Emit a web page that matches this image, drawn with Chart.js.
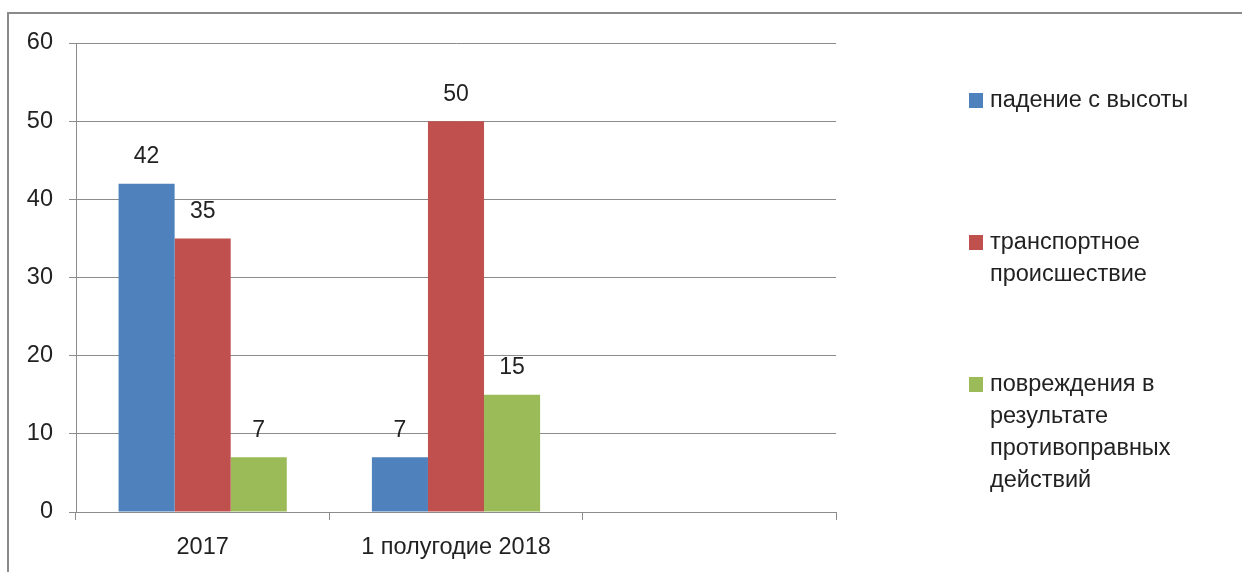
<!DOCTYPE html>
<html>
<head>
<meta charset="utf-8">
<script src="https://cdn.jsdelivr.net/npm/chart.js@4"></script>
<style>
  html, body { margin: 0; padding: 0; background: #fff; }
  #wrap { position: relative; width: 1242px; height: 572px; overflow: hidden; }
  #frame { position: absolute; left: 7px; top: 12px; width: 1300px; height: 700px; border-left: 2px solid #8a8a8a; border-top: 2px solid #8a8a8a; }
  #c { position: absolute; left: 0; top: 0; }
</style>
</head>
<body>
<div id="wrap">
  <div id="frame"></div>
  <canvas id="c" width="1242" height="572"></canvas>
</div>
<script>
// данные диаграммы
const categories = ['2017', '1 полугодие 2018', ''];
const seriesNames = ['падение с высоты', 'транспортное происшествие', 'повреждения в результате противоправных действий'];
const seriesColors = ['#4F81BD', '#C0504D', '#9BBB59'];
const fallValues = [42, 7, null];
const transportValues = [35, 50, null];
const assaultValues = [7, 15, null];
const yTicks = [0, 10, 20, 30, 40, 50, 60];

const FONT = '"Liberation Sans", Arial, sans-serif';

// подписи значений над столбцами
const valueLabels = {
  id: 'valueLabels',
  afterDatasetsDraw(chart) {
    const ctx = chart.ctx;
    ctx.save();
    ctx.font = '23px ' + FONT;
    ctx.fillStyle = '#222';
    ctx.textAlign = 'center';
    ctx.textBaseline = 'middle';
    chart.data.datasets.forEach((ds, i) => {
      chart.getDatasetMeta(i).data.forEach((bar, j) => {
        const v = ds.data[j];
        if (v == null) return;
        ctx.fillText(String(v), bar.x, bar.y - 27);
      });
    });
    ctx.restore();
  }
};

// легенда справа, как в Excel
const sideLegend = {
  id: 'sideLegend',
  afterDraw(chart) {
    const ctx = chart.ctx;
    ctx.save();
    ctx.font = '23.5px ' + FONT;
    ctx.textBaseline = 'middle';
    const x0 = 969, tx = 990, maxW = 222, lineH = 32;
    chart.data.datasets.forEach((ds, i) => {
      const y = 101 + i * 142;
      ctx.fillStyle = ds.backgroundColor;
      ctx.fillRect(x0, y - 8, 14, 15);
      const words = ds.label.split(' ');
      const lines = [];
      let cur = '';
      words.forEach(w => {
        const t = cur ? cur + ' ' + w : w;
        if (cur && ctx.measureText(t).width > maxW) { lines.push(cur); cur = w; }
        else cur = t;
      });
      if (cur) lines.push(cur);
      ctx.fillStyle = '#222';
      lines.forEach((ln, k) => ctx.fillText(ln, tx, y + k * lineH));
    });
    ctx.restore();
  }
};

const allValues = [fallValues, transportValues, assaultValues];

new Chart(document.getElementById('c'), {
  type: 'bar',
  data: {
    labels: categories,
    datasets: seriesNames.map((name, i) => ({
      label: name,
      data: allValues[i],
      backgroundColor: seriesColors[i],
      borderWidth: 0,
      categoryPercentage: 0.664,
      barPercentage: 1
    }))
  },
  options: {
    responsive: false,
    animation: false,
    layout: { padding: { left: 1, top: 43, right: 406, bottom: 0 } },
    plugins: {
      legend: { display: false },
      tooltip: { enabled: false }
    },
    scales: {
      x: {
        offset: true,
        grid: { display: true, drawOnChartArea: false, offset: true, tickLength: 8, color: '#8c8c8c' },
        border: { display: true, color: '#8c8c8c' },
        ticks: { color: '#222', font: { family: FONT, size: 23.5 }, padding: 13, maxRotation: 0 },
        afterFit(s) { s.height = 60; }
      },
      y: {
        min: 0,
        max: 60,
        afterBuildTicks(s) { s.ticks = yTicks.map(v => ({ value: v })); },
        grid: { color: '#8c8c8c', tickLength: 7 },
        border: { display: true, color: '#8c8c8c' },
        ticks: { color: '#222', font: { family: FONT, size: 23.5 }, padding: 16 },
        afterFit(s) { s.width = 75; }
      }
    }
  },
  plugins: [valueLabels, sideLegend]
});
</script>
</body>
</html>
